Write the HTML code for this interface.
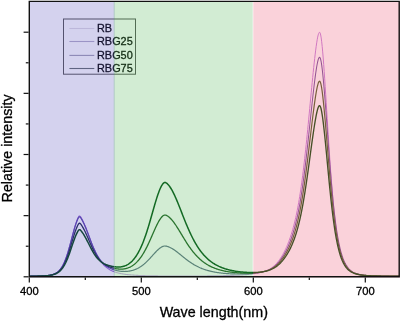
<!DOCTYPE html>
<html><head><meta charset="utf-8"><title>Spectra</title><style>
html,body{margin:0;padding:0;background:#fff;width:400px;height:321px;overflow:hidden}
svg{display:block}
text{font-family:"Liberation Sans",Arial,sans-serif;fill:#000;stroke:#000;stroke-width:0.3px}
</style></head><body>
<svg width="400" height="321" viewBox="0 0 400 321">
<defs><clipPath id="cB"><rect x="28.30" y="0" width="86.20" height="321"/></clipPath><clipPath id="cG"><rect x="114.50" y="0" width="138.70" height="321"/></clipPath><clipPath id="cP"><rect x="253.20" y="0" width="147.00" height="321"/></clipPath></defs>
<rect x="0" y="0" width="400" height="321" fill="#fff"/>
<polyline clip-path="url(#cB)" fill="none" stroke="rgb(150,100,210)" stroke-width="1.1" stroke-linejoin="round" points="29.3,276.25 29.8,276.25 30.3,276.25 30.8,276.24 31.3,276.24 31.8,276.24 32.3,276.23 32.8,276.23 33.3,276.22 33.8,276.22 34.3,276.21 34.8,276.21 35.3,276.20 35.8,276.19 36.3,276.18 36.8,276.18 37.3,276.17 37.8,276.16 38.3,276.15 38.8,276.13 39.3,276.12 39.8,276.11 40.3,276.09 40.8,276.07 41.3,276.06 41.8,276.04 42.3,276.01 42.8,275.99 43.3,275.96 43.8,275.93 44.3,275.90 44.8,275.86 45.3,275.83 45.8,275.78 46.3,275.74 46.8,275.68 47.3,275.63 47.8,275.57 48.3,275.50 48.8,275.42 49.3,275.34 49.8,275.25 50.3,275.15 50.8,275.04 51.3,274.92 51.8,274.79 52.3,274.64 52.8,274.48 53.3,274.30 53.8,274.11 54.3,273.90 54.8,273.67 55.3,273.42 55.8,273.14 56.3,272.83 56.8,272.50 57.3,272.14 57.8,271.74 58.3,271.31 58.8,270.84 59.3,270.32 59.8,269.77 60.3,269.16 60.8,268.51 61.3,267.80 61.8,267.03 62.3,266.21 62.8,265.32 63.3,264.36 63.8,263.34 64.3,262.25 64.8,261.08 65.3,259.85 65.8,258.53 66.3,257.15 66.8,255.69 67.3,254.16 67.8,252.56 68.3,250.89 68.8,249.16 69.3,247.38 69.8,245.55 70.3,243.67 70.8,241.77 71.3,239.84 71.8,237.91 72.3,235.98 72.8,234.06 73.3,232.18 73.8,230.33 74.3,228.54 74.8,226.82 75.3,225.17 75.8,223.60 76.3,222.13 76.8,220.74 77.3,219.44 77.8,218.26 78.3,217.23 78.8,216.44 79.3,216.02 79.8,216.05 80.3,216.47 80.8,217.15 81.3,217.98 81.8,218.88 82.3,219.83 82.8,220.80 83.3,221.81 83.8,222.87 84.3,223.97 84.8,225.11 85.3,226.30 85.8,227.54 86.3,228.81 86.8,230.11 87.3,231.44 87.8,232.79 88.3,234.15 88.8,235.52 89.3,236.89 89.8,238.25 90.3,239.61 90.8,240.96 91.3,242.28 91.8,243.59 92.3,244.87 92.8,246.12 93.3,247.34 93.8,248.53 94.3,249.69 94.8,250.81 95.3,251.90 95.8,252.94 96.3,253.96 96.8,254.93 97.3,255.87 97.8,256.77 98.3,257.64 98.8,258.47 99.3,259.26 99.8,260.03 100.3,260.75 100.8,261.45 101.3,262.12 101.8,262.75 102.3,263.36 102.8,263.94 103.3,264.49 103.8,265.02 104.3,265.52 104.8,266.00 105.3,266.45 105.8,266.89 106.3,267.30 106.8,267.69 107.3,268.07 107.8,268.42 108.3,268.76 108.8,269.09 109.3,269.39 109.8,269.69 110.3,269.97 110.8,270.23 111.3,270.49 111.8,270.73 112.3,270.96 112.8,271.18 113.3,271.38 113.8,271.58 114.3,271.77 114.8,271.95 115.3,272.13 115.8,272.29 116.3,272.45"/>
<polyline clip-path="url(#cG)" fill="none" stroke="rgb(202,167,227)" stroke-width="1.1" stroke-linejoin="round" points="112.5,271.05 113.0,271.26 113.5,271.47 114.0,271.66 114.5,271.85 115.0,272.02 115.5,272.19 116.0,272.35 116.5,272.51 117.0,272.66 117.5,272.80 118.0,272.93 118.5,273.06 119.0,273.18 119.5,273.30 120.0,273.41 120.5,273.51 121.0,273.62 121.5,273.71 122.0,273.81 122.5,273.89 123.0,273.98 123.5,274.06 124.0,274.14 124.5,274.21 125.0,274.29 125.5,274.35 126.0,274.42 126.5,274.48 127.0,274.54 127.5,274.60 128.0,274.66 128.5,274.71 129.0,274.76 129.5,274.81 130.0,274.86 130.5,274.90 131.0,274.95 131.5,274.99 132.0,275.03 132.5,275.07 133.0,275.10 133.5,275.14 134.0,275.17 134.5,275.21 135.0,275.24 135.5,275.27 136.0,275.30 136.5,275.33 137.0,275.35 137.5,275.38 138.0,275.40 138.5,275.43 139.0,275.45 139.5,275.47 140.0,275.50 140.5,275.52 141.0,275.54 141.5,275.56 142.0,275.57 142.5,275.59 143.0,275.61 143.5,275.63 144.0,275.64 144.5,275.66 145.0,275.67 145.5,275.69 146.0,275.70 146.5,275.72 147.0,275.73 147.5,275.74 148.0,275.75 148.5,275.77 149.0,275.78 149.5,275.79 150.0,275.80 150.5,275.81 151.0,275.82 151.5,275.83 152.0,275.84 152.5,275.85 153.0,275.85 153.5,275.86 154.0,275.87 154.5,275.88 155.0,275.89 155.5,275.89 156.0,275.90 156.5,275.91 157.0,275.91 157.5,275.92 158.0,275.93 158.5,275.93 159.0,275.94 159.5,275.94 160.0,275.95 160.5,275.95 161.0,275.96 161.5,275.96 162.0,275.97 162.5,275.97 163.0,275.97 163.5,275.98 164.0,275.98 164.5,275.99 165.0,275.99 165.5,275.99 166.0,276.00 166.5,276.00 167.0,276.00 167.5,276.01 168.0,276.01 168.5,276.01 169.0,276.01 169.5,276.02 170.0,276.02 170.5,276.02 171.0,276.02 171.5,276.02 172.0,276.03 172.5,276.03 173.0,276.03 173.5,276.03 174.0,276.03 174.5,276.03 175.0,276.03 175.5,276.03 176.0,276.04 176.5,276.04 177.0,276.04 177.5,276.04 178.0,276.04 178.5,276.04 179.0,276.04 179.5,276.04 180.0,276.04 180.5,276.04 181.0,276.04 181.5,276.04 182.0,276.04 182.5,276.04 183.0,276.04 183.5,276.04 184.0,276.04 184.5,276.04 185.0,276.04 185.5,276.04 186.0,276.04 186.5,276.04 187.0,276.04 187.5,276.03 188.0,276.03 188.5,276.03 189.0,276.03 189.5,276.03 190.0,276.03 190.5,276.03 191.0,276.03 191.5,276.02 192.0,276.02 192.5,276.02 193.0,276.02 193.5,276.02 194.0,276.01 194.5,276.01 195.0,276.01 195.5,276.01 196.0,276.00 196.5,276.00 197.0,276.00 197.5,276.00 198.0,275.99 198.5,275.99 199.0,275.99 199.5,275.99 200.0,275.98 200.5,275.98 201.0,275.98 201.5,275.97 202.0,275.97 202.5,275.96 203.0,275.96 203.5,275.96 204.0,275.95 204.5,275.95 205.0,275.94 205.5,275.94 206.0,275.93 206.5,275.93 207.0,275.93 207.5,275.92 208.0,275.92 208.5,275.91 209.0,275.90 209.5,275.90 210.0,275.89 210.5,275.89 211.0,275.88 211.5,275.88 212.0,275.87 212.5,275.86 213.0,275.86 213.5,275.85 214.0,275.84 214.5,275.84 215.0,275.83 215.5,275.82 216.0,275.81 216.5,275.80 217.0,275.80 217.5,275.79 218.0,275.78 218.5,275.77 219.0,275.76 219.5,275.75 220.0,275.74 220.5,275.73 221.0,275.72 221.5,275.71 222.0,275.70 222.5,275.69 223.0,275.68 223.5,275.67 224.0,275.66 224.5,275.64 225.0,275.63 225.5,275.62 226.0,275.61 226.5,275.59 227.0,275.58 227.5,275.56 228.0,275.55 228.5,275.54 229.0,275.52 229.5,275.50 230.0,275.49 230.5,275.47 231.0,275.45 231.5,275.44 232.0,275.42 232.5,275.40 233.0,275.38 233.5,275.36 234.0,275.34 234.5,275.32 235.0,275.30 235.5,275.28 236.0,275.25 236.5,275.23 237.0,275.21 237.5,275.18 238.0,275.16 238.5,275.13 239.0,275.10 239.5,275.08 240.0,275.05 240.5,275.02 241.0,274.99 241.5,274.96 242.0,274.92 242.5,274.89 243.0,274.86 243.5,274.82 244.0,274.78 244.5,274.75 245.0,274.71 245.5,274.67 246.0,274.63 246.5,274.58 247.0,274.54 247.5,274.50 248.0,274.45 248.5,274.40 249.0,274.35 249.5,274.30 250.0,274.24 250.5,274.19 251.0,274.13 251.5,274.07 252.0,274.01 252.5,273.95 253.0,273.88 253.5,273.82 254.0,273.74 254.5,273.67 255.0,273.60"/>
<polyline clip-path="url(#cP)" fill="none" stroke="rgb(200,135,222)" stroke-width="1.0" stroke-linejoin="round" points="251.2,274.11 251.7,274.05 252.2,273.99 252.7,273.92 253.2,273.86 253.7,273.79 254.2,273.72 254.7,273.64 255.2,273.56 255.7,273.49 256.2,273.40 256.7,273.32 257.2,273.23 257.7,273.13 258.2,273.04 258.7,272.93 259.2,272.83 259.7,272.72 260.2,272.60 260.7,272.48 261.2,272.36 261.7,272.23 262.2,272.09 262.7,271.95 263.2,271.80 263.7,271.64 264.2,271.48 264.7,271.30 265.2,271.12 265.7,270.93 266.2,270.73 266.7,270.52 267.2,270.30 267.7,270.07 268.2,269.82 268.7,269.57 269.2,269.30 269.7,269.01 270.2,268.71 270.7,268.40 271.2,268.07 271.7,267.73 272.2,267.36 272.7,266.98 273.2,266.58 273.7,266.16 274.2,265.72 274.7,265.27 275.2,264.78 275.7,264.28 276.2,263.76 276.7,263.21 277.2,262.64 277.7,262.04 278.2,261.42 278.7,260.78 279.2,260.11 279.7,259.41 280.2,258.68 280.7,257.93 281.2,257.15 281.7,256.35 282.2,255.51 282.7,254.65 283.2,253.75 283.7,252.83 284.2,251.87 284.7,250.88 285.2,249.86 285.7,248.81 286.2,247.72 286.7,246.59 287.2,245.43 287.7,244.22 288.2,242.98 288.7,241.69 289.2,240.36 289.7,238.98 290.2,237.55 290.7,236.07 291.2,234.54 291.7,232.94 292.2,231.29 292.7,229.57 293.2,227.78 293.7,225.92 294.2,223.99 294.7,221.97 295.2,219.87 295.7,217.67 296.2,215.39 296.7,213.01 297.2,210.52 297.7,207.93 298.2,205.22 298.7,202.40 299.2,199.46 299.7,196.40 300.2,193.20 300.7,189.88 301.2,186.43 301.7,182.84 302.2,179.11 302.7,175.24 303.2,171.24 303.7,167.10 304.2,162.83 304.7,158.42 305.2,153.89 305.7,149.23 306.2,144.46 306.7,139.58 307.2,134.60 307.7,129.53 308.2,124.39 308.7,119.19 309.2,113.94 309.7,108.65 310.2,103.36 310.7,98.07 311.2,92.81 311.7,87.59 312.2,82.44 312.7,77.37 313.2,72.42 313.7,67.60 314.2,62.93 314.7,58.44 315.2,54.15 315.7,50.10 316.2,46.32 316.7,42.85 317.2,39.75 317.7,37.08 318.2,34.93 318.7,33.37 319.2,32.47 319.7,32.28 320.2,33.09 320.7,35.00 321.2,37.94 321.7,41.81 322.2,46.51 322.7,51.92 323.2,57.95 323.7,64.51 324.2,71.50 324.7,78.85 325.2,86.48 325.7,94.31 326.2,102.29 326.7,110.35 327.2,118.43 327.7,126.47 328.2,134.43 328.7,142.25 329.2,149.91 329.7,157.36 330.2,164.58 330.7,171.54 331.2,178.23 331.7,184.63 332.2,190.73 332.7,196.53 333.2,202.03 333.7,207.22 334.2,212.11 334.7,216.71 335.2,221.03 335.7,225.07 336.2,228.84 336.7,232.37 337.2,235.65 337.7,238.70 338.2,241.53 338.7,244.16 339.2,246.59 339.7,248.85 340.2,250.93 340.7,252.86 341.2,254.64 341.7,256.29 342.2,257.81 342.7,259.21 343.2,260.50 343.7,261.69 344.2,262.79 344.7,263.80 345.2,264.73 345.7,265.59 346.2,266.38 346.7,267.11 347.2,267.78 347.7,268.40 348.2,268.97 348.7,269.50 349.2,269.98 349.7,270.43 350.2,270.85 350.7,271.23 351.2,271.58 351.7,271.90 352.2,272.20 352.7,272.48 353.2,272.74 353.7,272.98 354.2,273.20 354.7,273.40 355.2,273.59 355.7,273.76 356.2,273.92 356.7,274.07 357.2,274.21 357.7,274.34 358.2,274.46 358.7,274.58 359.2,274.68 359.7,274.78 360.2,274.86 360.7,274.95 361.2,275.03 361.7,275.10 362.2,275.17 362.7,275.23 363.2,275.29 363.7,275.34 364.2,275.40 364.7,275.44 365.2,275.49 365.7,275.53 366.2,275.57 366.7,275.61 367.2,275.64 367.7,275.67 368.2,275.70 368.7,275.73 369.2,275.76 369.7,275.79 370.2,275.81 370.7,275.83 371.2,275.85 371.7,275.87 372.2,275.89 372.7,275.91 373.2,275.93 373.7,275.94 374.2,275.96 374.7,275.97 375.2,275.98 375.7,276.00 376.2,276.01 376.7,276.02 377.2,276.03 377.7,276.04 378.2,276.05 378.7,276.06 379.2,276.07 379.7,276.07 380.2,276.08 380.7,276.09 381.2,276.10 381.7,276.10 382.2,276.11 382.7,276.12 383.2,276.12 383.7,276.13 384.2,276.13 384.7,276.14 385.2,276.14 385.7,276.15 386.2,276.15 386.7,276.16 387.2,276.16 387.7,276.16 388.2,276.17 388.7,276.17 389.2,276.17 389.7,276.18 390.2,276.18 390.7,276.18 391.2,276.19 391.7,276.19 392.2,276.19 392.7,276.19 393.2,276.20 393.7,276.20 394.2,276.20 394.7,276.20 395.2,276.21 395.7,276.21 396.2,276.21 396.7,276.21 397.2,276.21 397.7,276.22 398.2,276.22 398.7,276.22 399.2,276.22"/>
<polyline clip-path="url(#cB)" fill="none" stroke="rgb(90,68,172)" stroke-width="1.2" stroke-linejoin="round" points="29.3,276.24 29.8,276.23 30.3,276.23 30.8,276.23 31.3,276.22 31.8,276.22 32.3,276.22 32.8,276.21 33.3,276.21 33.8,276.20 34.3,276.19 34.8,276.19 35.3,276.18 35.8,276.17 36.3,276.17 36.8,276.16 37.3,276.15 37.8,276.14 38.3,276.13 38.8,276.12 39.3,276.10 39.8,276.09 40.3,276.07 40.8,276.05 41.3,276.04 41.8,276.02 42.3,275.99 42.8,275.97 43.3,275.94 43.8,275.91 44.3,275.88 44.8,275.84 45.3,275.80 45.8,275.76 46.3,275.72 46.8,275.66 47.3,275.61 47.8,275.55 48.3,275.48 48.8,275.40 49.3,275.32 49.8,275.23 50.3,275.13 50.8,275.02 51.3,274.90 51.8,274.77 52.3,274.63 52.8,274.47 53.3,274.30 53.8,274.11 54.3,273.90 54.8,273.67 55.3,273.42 55.8,273.15 56.3,272.85 56.8,272.52 57.3,272.16 57.8,271.77 58.3,271.34 58.8,270.88 59.3,270.37 59.8,269.82 60.3,269.23 60.8,268.58 61.3,267.88 61.8,267.13 62.3,266.31 62.8,265.44 63.3,264.50 63.8,263.49 64.3,262.42 64.8,261.27 65.3,260.05 65.8,258.76 66.3,257.40 66.8,255.96 67.3,254.45 67.8,252.88 68.3,251.24 68.8,249.53 69.3,247.78 69.8,245.97 70.3,244.13 70.8,242.25 71.3,240.36 71.8,238.45 72.3,236.55 72.8,234.67 73.3,232.81 73.8,230.99 74.3,229.23 74.8,227.53 75.3,225.91 75.8,224.36 76.3,222.91 76.8,221.54 77.3,220.26 77.8,219.09 78.3,218.07 78.8,217.29 79.3,216.88 79.8,216.90 80.3,217.31 80.8,217.97 81.3,218.78 81.8,219.66 82.3,220.58 82.8,221.53 83.3,222.52 83.8,223.55 84.3,224.62 84.8,225.74 85.3,226.90 85.8,228.10 86.3,229.34 86.8,230.61 87.3,231.90 87.8,233.21 88.3,234.53 88.8,235.86 89.3,237.19 89.8,238.52 90.3,239.84 90.8,241.14 91.3,242.42 91.8,243.68 92.3,244.91 92.8,246.12 93.3,247.29 93.8,248.44 94.3,249.54 94.8,250.62 95.3,251.65 95.8,252.65 96.3,253.61 96.8,254.54 97.3,255.42 97.8,256.27 98.3,257.08 98.8,257.86 99.3,258.61 99.8,259.31 100.3,259.99 100.8,260.64 101.3,261.25 101.8,261.83 102.3,262.39 102.8,262.92 103.3,263.42 103.8,263.90 104.3,264.35 104.8,264.78 105.3,265.19 105.8,265.58 106.3,265.95 106.8,266.30 107.3,266.63 107.8,266.95 108.3,267.25 108.8,267.54 109.3,267.81 109.8,268.07 110.3,268.31 110.8,268.55 111.3,268.77 111.8,268.98 112.3,269.18 112.8,269.37 113.3,269.55 113.8,269.73 114.3,269.89 114.8,270.04 115.3,270.19 115.8,270.33 116.3,270.46"/>
<polyline clip-path="url(#cG)" fill="none" stroke="rgb(95,114,134)" stroke-width="1.2" stroke-linejoin="round" points="112.5,269.26 113.0,269.45 113.5,269.62 114.0,269.79 114.5,269.95 115.0,270.10 115.5,270.24 116.0,270.38 116.5,270.50 117.0,270.62 117.5,270.73 118.0,270.84 118.5,270.93 119.0,271.02 119.5,271.10 120.0,271.17 120.5,271.23 121.0,271.29 121.5,271.34 122.0,271.38 122.5,271.42 123.0,271.44 123.5,271.46 124.0,271.47 124.5,271.48 125.0,271.47 125.5,271.46 126.0,271.44 126.5,271.41 127.0,271.37 127.5,271.32 128.0,271.27 128.5,271.21 129.0,271.13 129.5,271.05 130.0,270.96 130.5,270.87 131.0,270.76 131.5,270.64 132.0,270.51 132.5,270.38 133.0,270.23 133.5,270.07 134.0,269.91 134.5,269.73 135.0,269.54 135.5,269.35 136.0,269.14 136.5,268.92 137.0,268.68 137.5,268.44 138.0,268.18 138.5,267.92 139.0,267.64 139.5,267.34 140.0,267.04 140.5,266.72 141.0,266.39 141.5,266.05 142.0,265.69 142.5,265.32 143.0,264.94 143.5,264.54 144.0,264.14 144.5,263.71 145.0,263.28 145.5,262.83 146.0,262.37 146.5,261.90 147.0,261.42 147.5,260.92 148.0,260.42 148.5,259.90 149.0,259.38 149.5,258.85 150.0,258.31 150.5,257.76 151.0,257.21 151.5,256.65 152.0,256.09 152.5,255.53 153.0,254.97 153.5,254.42 154.0,253.86 154.5,253.31 155.0,252.77 155.5,252.23 156.0,251.71 156.5,251.19 157.0,250.69 157.5,250.21 158.0,249.74 158.5,249.30 159.0,248.87 159.5,248.47 160.0,248.08 160.5,247.73 161.0,247.40 161.5,247.09 162.0,246.82 162.5,246.58 163.0,246.37 163.5,246.21 164.0,246.09 164.5,246.02 165.0,246.00 165.5,246.04 166.0,246.10 166.5,246.20 167.0,246.33 167.5,246.48 168.0,246.65 168.5,246.83 169.0,247.03 169.5,247.25 170.0,247.47 170.5,247.71 171.0,247.97 171.5,248.24 172.0,248.52 172.5,248.81 173.0,249.12 173.5,249.43 174.0,249.76 174.5,250.10 175.0,250.45 175.5,250.81 176.0,251.17 176.5,251.55 177.0,251.93 177.5,252.32 178.0,252.71 178.5,253.11 179.0,253.51 179.5,253.91 180.0,254.32 180.5,254.73 181.0,255.14 181.5,255.55 182.0,255.96 182.5,256.36 183.0,256.77 183.5,257.18 184.0,257.58 184.5,257.98 185.0,258.38 185.5,258.78 186.0,259.17 186.5,259.55 187.0,259.93 187.5,260.31 188.0,260.68 188.5,261.05 189.0,261.41 189.5,261.76 190.0,262.11 190.5,262.45 191.0,262.79 191.5,263.12 192.0,263.44 192.5,263.76 193.0,264.07 193.5,264.37 194.0,264.67 194.5,264.96 195.0,265.24 195.5,265.52 196.0,265.79 196.5,266.06 197.0,266.32 197.5,266.57 198.0,266.81 198.5,267.05 199.0,267.29 199.5,267.51 200.0,267.74 200.5,267.95 201.0,268.16 201.5,268.37 202.0,268.57 202.5,268.76 203.0,268.95 203.5,269.13 204.0,269.31 204.5,269.48 205.0,269.65 205.5,269.81 206.0,269.97 206.5,270.12 207.0,270.27 207.5,270.42 208.0,270.56 208.5,270.69 209.0,270.83 209.5,270.95 210.0,271.08 210.5,271.20 211.0,271.32 211.5,271.43 212.0,271.54 212.5,271.65 213.0,271.75 213.5,271.85 214.0,271.95 214.5,272.04 215.0,272.13 215.5,272.22 216.0,272.31 216.5,272.39 217.0,272.47 217.5,272.54 218.0,272.62 218.5,272.69 219.0,272.76 219.5,272.83 220.0,272.89 220.5,272.96 221.0,273.02 221.5,273.07 222.0,273.13 222.5,273.18 223.0,273.24 223.5,273.29 224.0,273.33 224.5,273.38 225.0,273.42 225.5,273.47 226.0,273.51 226.5,273.55 227.0,273.58 227.5,273.62 228.0,273.65 228.5,273.68 229.0,273.72 229.5,273.74 230.0,273.77 230.5,273.80 231.0,273.82 231.5,273.85 232.0,273.87 232.5,273.89 233.0,273.91 233.5,273.92 234.0,273.94 234.5,273.95 235.0,273.97 235.5,273.98 236.0,273.99 236.5,274.00 237.0,274.01 237.5,274.01 238.0,274.02 238.5,274.02 239.0,274.02 239.5,274.02 240.0,274.02 240.5,274.02 241.0,274.02 241.5,274.01 242.0,274.01 242.5,274.00 243.0,273.99 243.5,273.98 244.0,273.97 244.5,273.95 245.0,273.94 245.5,273.92 246.0,273.90 246.5,273.88 247.0,273.86 247.5,273.84 248.0,273.81 248.5,273.78 249.0,273.75 249.5,273.72 250.0,273.69 250.5,273.66 251.0,273.62 251.5,273.58 252.0,273.54 252.5,273.50 253.0,273.45 253.5,273.40 254.0,273.35 254.5,273.30 255.0,273.24"/>
<polyline clip-path="url(#cP)" fill="none" stroke="rgb(120,88,160)" stroke-width="1.05" stroke-linejoin="round" points="251.2,273.60 251.7,273.56 252.2,273.52 252.7,273.48 253.2,273.43 253.7,273.38 254.2,273.33 254.7,273.28 255.2,273.22 255.7,273.16 256.2,273.10 256.7,273.03 257.2,272.96 257.7,272.89 258.2,272.81 258.7,272.73 259.2,272.65 259.7,272.56 260.2,272.46 260.7,272.37 261.2,272.26 261.7,272.15 262.2,272.04 262.7,271.92 263.2,271.79 263.7,271.66 264.2,271.52 264.7,271.37 265.2,271.22 265.7,271.06 266.2,270.88 266.7,270.70 267.2,270.51 267.7,270.31 268.2,270.10 268.7,269.87 269.2,269.64 269.7,269.39 270.2,269.13 270.7,268.85 271.2,268.56 271.7,268.26 272.2,267.94 272.7,267.60 273.2,267.25 273.7,266.88 274.2,266.49 274.7,266.08 275.2,265.66 275.7,265.21 276.2,264.75 276.7,264.26 277.2,263.75 277.7,263.22 278.2,262.67 278.7,262.10 279.2,261.50 279.7,260.88 280.2,260.23 280.7,259.56 281.2,258.87 281.7,258.15 282.2,257.40 282.7,256.63 283.2,255.83 283.7,255.00 284.2,254.15 284.7,253.27 285.2,252.35 285.7,251.41 286.2,250.44 286.7,249.43 287.2,248.39 287.7,247.31 288.2,246.20 288.7,245.05 289.2,243.86 289.7,242.62 290.2,241.35 290.7,240.02 291.2,238.65 291.7,237.22 292.2,235.74 292.7,234.20 293.2,232.60 293.7,230.93 294.2,229.19 294.7,227.39 295.2,225.50 295.7,223.54 296.2,221.49 296.7,219.36 297.2,217.13 297.7,214.81 298.2,212.38 298.7,209.85 299.2,207.22 299.7,204.47 300.2,201.61 300.7,198.63 301.2,195.53 301.7,192.31 302.2,188.97 302.7,185.51 303.2,181.92 303.7,178.21 304.2,174.37 304.7,170.42 305.2,166.36 305.7,162.18 306.2,157.90 306.7,153.53 307.2,149.06 307.7,144.52 308.2,139.91 308.7,135.24 309.2,130.53 309.7,125.79 310.2,121.04 310.7,116.30 311.2,111.58 311.7,106.90 312.2,102.28 312.7,97.74 313.2,93.30 313.7,88.97 314.2,84.79 314.7,80.76 315.2,76.92 315.7,73.28 316.2,69.89 316.7,66.78 317.2,64.00 317.7,61.61 318.2,59.68 318.7,58.28 319.2,57.47 319.7,57.30 320.2,57.97 320.7,59.55 321.2,61.97 321.7,65.16 322.2,69.03 322.7,73.49 323.2,78.45 323.7,83.85 324.2,89.62 324.7,95.70 325.2,102.02 325.7,108.55 326.2,115.22 326.7,121.99 327.2,128.81 327.7,135.63 328.2,142.43 328.7,149.15 329.2,155.77 329.7,162.26 330.2,168.59 330.7,174.74 331.2,180.68 331.7,186.41 332.2,191.92 332.7,197.19 333.2,202.22 333.7,207.00 334.2,211.55 334.7,215.85 335.2,219.92 335.7,223.75 336.2,227.36 336.7,230.75 337.2,233.92 337.7,236.90 338.2,239.68 338.7,242.28 339.2,244.70 339.7,246.96 340.2,249.06 340.7,251.02 341.2,252.83 341.7,254.52 342.2,256.09 342.7,257.54 343.2,258.89 343.7,260.14 344.2,261.29 344.7,262.36 345.2,263.36 345.7,264.28 346.2,265.13 346.7,265.91 347.2,266.64 347.7,267.32 348.2,267.94 348.7,268.52 349.2,269.05 349.7,269.55 350.2,270.01 350.7,270.43 351.2,270.83 351.7,271.19 352.2,271.53 352.7,271.85 353.2,272.14 353.7,272.41 354.2,272.66 354.7,272.89 355.2,273.11 355.7,273.31 356.2,273.49 356.7,273.67 357.2,273.83 357.7,273.98 358.2,274.12 358.7,274.25 359.2,274.37 359.7,274.48 360.2,274.59 360.7,274.68 361.2,274.77 361.7,274.86 362.2,274.94 362.7,275.01 363.2,275.08 363.7,275.15 364.2,275.21 364.7,275.27 365.2,275.32 365.7,275.37 366.2,275.42 366.7,275.46 367.2,275.50 367.7,275.54 368.2,275.58 368.7,275.61 369.2,275.65 369.7,275.68 370.2,275.71 370.7,275.73 371.2,275.76 371.7,275.78 372.2,275.80 372.7,275.83 373.2,275.85 373.7,275.86 374.2,275.88 374.7,275.90 375.2,275.92 375.7,275.93 376.2,275.94 376.7,275.96 377.2,275.97 377.7,275.98 378.2,275.99 378.7,276.01 379.2,276.02 379.7,276.03 380.2,276.04 380.7,276.04 381.2,276.05 381.7,276.06 382.2,276.07 382.7,276.08 383.2,276.08 383.7,276.09 384.2,276.10 384.7,276.10 385.2,276.11 385.7,276.11 386.2,276.12 386.7,276.12 387.2,276.13 387.7,276.13 388.2,276.14 388.7,276.14 389.2,276.15 389.7,276.15 390.2,276.15 390.7,276.16 391.2,276.16 391.7,276.16 392.2,276.17 392.7,276.17 393.2,276.17 393.7,276.18 394.2,276.18 394.7,276.18 395.2,276.18 395.7,276.19 396.2,276.19 396.7,276.19 397.2,276.19 397.7,276.20 398.2,276.20 398.7,276.20 399.2,276.20"/>
<polyline clip-path="url(#cB)" fill="none" stroke="rgb(30,38,80)" stroke-width="1.3" stroke-linejoin="round" points="29.3,276.22 29.8,276.22 30.3,276.22 30.8,276.21 31.3,276.21 31.8,276.21 32.3,276.20 32.8,276.20 33.3,276.19 33.8,276.19 34.3,276.18 34.8,276.18 35.3,276.17 35.8,276.16 36.3,276.16 36.8,276.15 37.3,276.14 37.8,276.13 38.3,276.12 38.8,276.11 39.3,276.10 39.8,276.08 40.3,276.07 40.8,276.05 41.3,276.04 41.8,276.02 42.3,276.00 42.8,275.97 43.3,275.95 43.8,275.92 44.3,275.89 44.8,275.86 45.3,275.83 45.8,275.79 46.3,275.74 46.8,275.70 47.3,275.65 47.8,275.59 48.3,275.53 48.8,275.46 49.3,275.39 49.8,275.31 50.3,275.22 50.8,275.12 51.3,275.01 51.8,274.90 52.3,274.77 52.8,274.63 53.3,274.47 53.8,274.30 54.3,274.11 54.8,273.91 55.3,273.69 55.8,273.44 56.3,273.17 56.8,272.88 57.3,272.56 57.8,272.21 58.3,271.83 58.8,271.41 59.3,270.96 59.8,270.47 60.3,269.94 60.8,269.36 61.3,268.74 61.8,268.07 62.3,267.34 62.8,266.56 63.3,265.72 63.8,264.82 64.3,263.86 64.8,262.84 65.3,261.75 65.8,260.60 66.3,259.39 66.8,258.10 67.3,256.76 67.8,255.36 68.3,253.89 68.8,252.38 69.3,250.81 69.8,249.20 70.3,247.56 70.8,245.88 71.3,244.19 71.8,242.50 72.3,240.80 72.8,239.12 73.3,237.46 73.8,235.84 74.3,234.26 74.8,232.75 75.3,231.30 75.8,229.92 76.3,228.62 76.8,227.40 77.3,226.26 77.8,225.21 78.3,224.30 78.8,223.60 79.3,223.22 79.8,223.24 80.3,223.60 80.8,224.18 81.3,224.90 81.8,225.67 82.3,226.48 82.8,227.32 83.3,228.19 83.8,229.10 84.3,230.04 84.8,231.03 85.3,232.05 85.8,233.10 86.3,234.19 86.8,235.31 87.3,236.44 87.8,237.59 88.3,238.75 88.8,239.92 89.3,241.08 89.8,242.24 90.3,243.39 90.8,244.53 91.3,245.64 91.8,246.74 92.3,247.81 92.8,248.85 93.3,249.87 93.8,250.85 94.3,251.81 94.8,252.72 95.3,253.61 95.8,254.46 96.3,255.28 96.8,256.06 97.3,256.81 97.8,257.52 98.3,258.20 98.8,258.85 99.3,259.47 99.8,260.05 100.3,260.61 100.8,261.14 101.3,261.64 101.8,262.11 102.3,262.56 102.8,262.98 103.3,263.38 103.8,263.76 104.3,264.12 104.8,264.46 105.3,264.78 105.8,265.08 106.3,265.37 106.8,265.64 107.3,265.89 107.8,266.14 108.3,266.37 108.8,266.59 109.3,266.79 109.8,266.99 110.3,267.18 110.8,267.35 111.3,267.52 111.8,267.68 112.3,267.83 112.8,267.97 113.3,268.11 113.8,268.23 114.3,268.35 114.8,268.46 115.3,268.56 115.8,268.66 116.3,268.74"/>
<polyline clip-path="url(#cG)" fill="none" stroke="rgb(30,95,35)" stroke-width="1.3" stroke-linejoin="round" points="112.5,267.89 113.0,268.03 113.5,268.16 114.0,268.28 114.5,268.39 115.0,268.50 115.5,268.60 116.0,268.69 116.5,268.77 117.0,268.85 117.5,268.92 118.0,268.97 118.5,269.02 119.0,269.06 119.5,269.09 120.0,269.12 120.5,269.13 121.0,269.13 121.5,269.12 122.0,269.10 122.5,269.07 123.0,269.03 123.5,268.98 124.0,268.91 124.5,268.83 125.0,268.74 125.5,268.64 126.0,268.52 126.5,268.39 127.0,268.25 127.5,268.09 128.0,267.91 128.5,267.73 129.0,267.52 129.5,267.30 130.0,267.07 130.5,266.82 131.0,266.55 131.5,266.26 132.0,265.96 132.5,265.64 133.0,265.30 133.5,264.94 134.0,264.57 134.5,264.17 135.0,263.75 135.5,263.31 136.0,262.86 136.5,262.37 137.0,261.87 137.5,261.35 138.0,260.80 138.5,260.23 139.0,259.63 139.5,259.01 140.0,258.37 140.5,257.70 141.0,257.01 141.5,256.29 142.0,255.54 142.5,254.77 143.0,253.97 143.5,253.15 144.0,252.30 144.5,251.42 145.0,250.52 145.5,249.60 146.0,248.65 146.5,247.67 147.0,246.67 147.5,245.66 148.0,244.61 148.5,243.55 149.0,242.48 149.5,241.38 150.0,240.27 150.5,239.15 151.0,238.02 151.5,236.88 152.0,235.73 152.5,234.58 153.0,233.43 153.5,232.29 154.0,231.15 154.5,230.02 155.0,228.91 155.5,227.81 156.0,226.73 156.5,225.68 157.0,224.66 157.5,223.67 158.0,222.71 158.5,221.80 159.0,220.92 159.5,220.10 160.0,219.32 160.5,218.59 161.0,217.91 161.5,217.29 162.0,216.73 162.5,216.23 163.0,215.81 163.5,215.46 164.0,215.21 164.5,215.07 165.0,215.04 165.5,215.10 166.0,215.23 166.5,215.43 167.0,215.69 167.5,215.99 168.0,216.33 168.5,216.70 169.0,217.10 169.5,217.53 170.0,217.99 170.5,218.48 171.0,218.99 171.5,219.54 172.0,220.10 172.5,220.70 173.0,221.32 173.5,221.96 174.0,222.63 174.5,223.32 175.0,224.02 175.5,224.75 176.0,225.49 176.5,226.25 177.0,227.03 177.5,227.81 178.0,228.61 178.5,229.42 179.0,230.23 179.5,231.05 180.0,231.88 180.5,232.71 181.0,233.54 181.5,234.38 182.0,235.21 182.5,236.04 183.0,236.87 183.5,237.70 184.0,238.52 184.5,239.33 185.0,240.14 185.5,240.95 186.0,241.74 186.5,242.53 187.0,243.30 187.5,244.07 188.0,244.82 188.5,245.57 189.0,246.30 189.5,247.02 190.0,247.73 190.5,248.43 191.0,249.12 191.5,249.79 192.0,250.45 192.5,251.09 193.0,251.73 193.5,252.34 194.0,252.95 194.5,253.54 195.0,254.12 195.5,254.69 196.0,255.25 196.5,255.79 197.0,256.31 197.5,256.83 198.0,257.33 198.5,257.82 199.0,258.30 199.5,258.77 200.0,259.22 200.5,259.66 201.0,260.09 201.5,260.51 202.0,260.92 202.5,261.32 203.0,261.70 203.5,262.08 204.0,262.44 204.5,262.80 205.0,263.14 205.5,263.48 206.0,263.81 206.5,264.12 207.0,264.43 207.5,264.73 208.0,265.02 208.5,265.31 209.0,265.58 209.5,265.85 210.0,266.11 210.5,266.36 211.0,266.60 211.5,266.84 212.0,267.07 212.5,267.29 213.0,267.51 213.5,267.72 214.0,267.92 214.5,268.12 215.0,268.31 215.5,268.50 216.0,268.68 216.5,268.86 217.0,269.03 217.5,269.19 218.0,269.35 218.5,269.51 219.0,269.66 219.5,269.80 220.0,269.95 220.5,270.08 221.0,270.22 221.5,270.35 222.0,270.47 222.5,270.59 223.0,270.71 223.5,270.82 224.0,270.93 224.5,271.04 225.0,271.14 225.5,271.24 226.0,271.34 226.5,271.43 227.0,271.52 227.5,271.60 228.0,271.69 228.5,271.77 229.0,271.85 229.5,271.92 230.0,272.00 230.5,272.07 231.0,272.13 231.5,272.20 232.0,272.26 232.5,272.32 233.0,272.38 233.5,272.43 234.0,272.49 234.5,272.54 235.0,272.59 235.5,272.63 236.0,272.68 236.5,272.72 237.0,272.76 237.5,272.80 238.0,272.83 238.5,272.87 239.0,272.90 239.5,272.93 240.0,272.96 240.5,272.98 241.0,273.01 241.5,273.03 242.0,273.05 242.5,273.07 243.0,273.08 243.5,273.10 244.0,273.11 244.5,273.12 245.0,273.13 245.5,273.13 246.0,273.14 246.5,273.14 247.0,273.14 247.5,273.14 248.0,273.14 248.5,273.13 249.0,273.12 249.5,273.12 250.0,273.10 250.5,273.09 251.0,273.07 251.5,273.06 252.0,273.03 252.5,273.01 253.0,272.99 253.5,272.96 254.0,272.93 254.5,272.89 255.0,272.86"/>
<polyline clip-path="url(#cP)" fill="none" stroke="rgb(82,102,44)" stroke-width="1.2" stroke-linejoin="round" points="251.2,273.07 251.7,273.05 252.2,273.03 252.7,273.00 253.2,272.98 253.7,272.95 254.2,272.91 254.7,272.88 255.2,272.84 255.7,272.80 256.2,272.76 256.7,272.71 257.2,272.66 257.7,272.61 258.2,272.56 258.7,272.50 259.2,272.43 259.7,272.36 260.2,272.29 260.7,272.21 261.2,272.13 261.7,272.05 262.2,271.96 262.7,271.86 263.2,271.76 263.7,271.65 264.2,271.53 264.7,271.41 265.2,271.28 265.7,271.14 266.2,271.00 266.7,270.84 267.2,270.68 267.7,270.51 268.2,270.33 268.7,270.14 269.2,269.94 269.7,269.72 270.2,269.50 270.7,269.26 271.2,269.01 271.7,268.74 272.2,268.47 272.7,268.17 273.2,267.86 273.7,267.54 274.2,267.20 274.7,266.85 275.2,266.47 275.7,266.08 276.2,265.67 276.7,265.24 277.2,264.80 277.7,264.33 278.2,263.84 278.7,263.34 279.2,262.81 279.7,262.26 280.2,261.69 280.7,261.10 281.2,260.49 281.7,259.85 282.2,259.19 282.7,258.51 283.2,257.80 283.7,257.07 284.2,256.31 284.7,255.53 285.2,254.72 285.7,253.89 286.2,253.02 286.7,252.13 287.2,251.21 287.7,250.25 288.2,249.26 288.7,248.24 289.2,247.19 289.7,246.09 290.2,244.96 290.7,243.78 291.2,242.56 291.7,241.29 292.2,239.98 292.7,238.61 293.2,237.19 293.7,235.70 294.2,234.16 294.7,232.56 295.2,230.88 295.7,229.14 296.2,227.32 296.7,225.42 297.2,223.44 297.7,221.37 298.2,219.21 298.7,216.97 299.2,214.62 299.7,212.18 300.2,209.63 300.7,206.98 301.2,204.23 301.7,201.36 302.2,198.39 302.7,195.31 303.2,192.12 303.7,188.81 304.2,185.40 304.7,181.89 305.2,178.27 305.7,174.56 306.2,170.75 306.7,166.85 307.2,162.88 307.7,158.84 308.2,154.73 308.7,150.58 309.2,146.39 309.7,142.17 310.2,137.94 310.7,133.72 311.2,129.52 311.7,125.36 312.2,121.25 312.7,117.20 313.2,113.25 313.7,109.40 314.2,105.68 314.7,102.09 315.2,98.67 315.7,95.44 316.2,92.42 316.7,89.65 317.2,87.18 317.7,85.05 318.2,83.34 318.7,82.09 319.2,81.37 319.7,81.22 320.2,81.82 320.7,83.23 321.2,85.38 321.7,88.22 322.2,91.67 322.7,95.64 323.2,100.06 323.7,104.87 324.2,110.01 324.7,115.42 325.2,121.05 325.7,126.86 326.2,132.80 326.7,138.83 327.2,144.90 327.7,150.98 328.2,157.03 328.7,163.02 329.2,168.91 329.7,174.69 330.2,180.32 330.7,185.80 331.2,191.09 331.7,196.19 332.2,201.10 332.7,205.79 333.2,210.27 333.7,214.53 334.2,218.58 334.7,222.41 335.2,226.03 335.7,229.44 336.2,232.66 336.7,235.67 337.2,238.50 337.7,241.15 338.2,243.63 338.7,245.95 339.2,248.10 339.7,250.11 340.2,251.99 340.7,253.73 341.2,255.35 341.7,256.85 342.2,258.24 342.7,259.54 343.2,260.74 343.7,261.85 344.2,262.88 344.7,263.84 345.2,264.72 345.7,265.54 346.2,266.30 346.7,267.00 347.2,267.65 347.7,268.25 348.2,268.80 348.7,269.32 349.2,269.80 349.7,270.24 350.2,270.65 350.7,271.03 351.2,271.38 351.7,271.70 352.2,272.01 352.7,272.29 353.2,272.54 353.7,272.79 354.2,273.01 354.7,273.22 355.2,273.41 355.7,273.59 356.2,273.75 356.7,273.91 357.2,274.05 357.7,274.19 358.2,274.31 358.7,274.43 359.2,274.54 359.7,274.64 360.2,274.73 360.7,274.82 361.2,274.90 361.7,274.98 362.2,275.05 362.7,275.12 363.2,275.18 363.7,275.24 364.2,275.29 364.7,275.34 365.2,275.39 365.7,275.44 366.2,275.48 366.7,275.52 367.2,275.55 367.7,275.59 368.2,275.62 368.7,275.65 369.2,275.68 369.7,275.71 370.2,275.74 370.7,275.76 371.2,275.78 371.7,275.80 372.2,275.83 372.7,275.84 373.2,275.86 373.7,275.88 374.2,275.90 374.7,275.91 375.2,275.93 375.7,275.94 376.2,275.95 376.7,275.97 377.2,275.98 377.7,275.99 378.2,276.00 378.7,276.01 379.2,276.02 379.7,276.03 380.2,276.04 380.7,276.04 381.2,276.05 381.7,276.06 382.2,276.07 382.7,276.07 383.2,276.08 383.7,276.09 384.2,276.09 384.7,276.10 385.2,276.10 385.7,276.11 386.2,276.11 386.7,276.12 387.2,276.12 387.7,276.13 388.2,276.13 388.7,276.14 389.2,276.14 389.7,276.14 390.2,276.15 390.7,276.15 391.2,276.15 391.7,276.16 392.2,276.16 392.7,276.16 393.2,276.16 393.7,276.17 394.2,276.17 394.7,276.17 395.2,276.18 395.7,276.18 396.2,276.18 396.7,276.18 397.2,276.18 397.7,276.19 398.2,276.19 398.7,276.19 399.2,276.19"/>
<polyline clip-path="url(#cB)" fill="none" stroke="rgb(0,70,20)" stroke-width="1.5" stroke-linejoin="round" points="29.3,276.21 29.8,276.21 30.3,276.21 30.8,276.20 31.3,276.20 31.8,276.19 32.3,276.19 32.8,276.19 33.3,276.18 33.8,276.18 34.3,276.17 34.8,276.17 35.3,276.16 35.8,276.15 36.3,276.15 36.8,276.14 37.3,276.13 37.8,276.12 38.3,276.11 38.8,276.10 39.3,276.09 39.8,276.08 40.3,276.06 40.8,276.05 41.3,276.03 41.8,276.02 42.3,276.00 42.8,275.98 43.3,275.96 43.8,275.93 44.3,275.91 44.8,275.88 45.3,275.84 45.8,275.81 46.3,275.77 46.8,275.73 47.3,275.69 47.8,275.64 48.3,275.58 48.8,275.52 49.3,275.46 49.8,275.38 50.3,275.31 50.8,275.22 51.3,275.12 51.8,275.02 52.3,274.91 52.8,274.78 53.3,274.64 53.8,274.49 54.3,274.33 54.8,274.15 55.3,273.95 55.8,273.74 56.3,273.50 56.8,273.24 57.3,272.96 57.8,272.65 58.3,272.32 58.8,271.95 59.3,271.56 59.8,271.13 60.3,270.66 60.8,270.15 61.3,269.61 61.8,269.02 62.3,268.38 62.8,267.69 63.3,266.96 63.8,266.17 64.3,265.33 64.8,264.43 65.3,263.48 65.8,262.47 66.3,261.40 66.8,260.28 67.3,259.10 67.8,257.87 68.3,256.59 68.8,255.26 69.3,253.88 69.8,252.47 70.3,251.03 70.8,249.57 71.3,248.08 71.8,246.59 72.3,245.11 72.8,243.63 73.3,242.18 73.8,240.76 74.3,239.38 74.8,238.05 75.3,236.77 75.8,235.56 76.3,234.42 76.8,233.35 77.3,232.34 77.8,231.42 78.3,230.62 78.8,230.00 79.3,229.66 79.8,229.67 80.3,229.98 80.8,230.48 81.3,231.10 81.8,231.77 82.3,232.47 82.8,233.19 83.3,233.94 83.8,234.72 84.3,235.54 84.8,236.38 85.3,237.27 85.8,238.18 86.3,239.11 86.8,240.07 87.3,241.04 87.8,242.03 88.3,243.03 88.8,244.02 89.3,245.02 89.8,246.01 90.3,246.99 90.8,247.95 91.3,248.90 91.8,249.83 92.3,250.73 92.8,251.61 93.3,252.46 93.8,253.28 94.3,254.08 94.8,254.84 95.3,255.57 95.8,256.27 96.3,256.94 96.8,257.58 97.3,258.19 97.8,258.76 98.3,259.31 98.8,259.82 99.3,260.31 99.8,260.77 100.3,261.20 100.8,261.61 101.3,261.99 101.8,262.35 102.3,262.68 102.8,263.00 103.3,263.29 103.8,263.57 104.3,263.83 104.8,264.07 105.3,264.30 105.8,264.52 106.3,264.72 106.8,264.91 107.3,265.08 107.8,265.25 108.3,265.41 108.8,265.56 109.3,265.70 109.8,265.83 110.3,265.96 110.8,266.07 111.3,266.18 111.8,266.29 112.3,266.39 112.8,266.48 113.3,266.56 113.8,266.64 114.3,266.71 114.8,266.78 115.3,266.83 115.8,266.88 116.3,266.93"/>
<polyline clip-path="url(#cG)" fill="none" stroke="rgb(0,82,22)" stroke-width="1.5" stroke-linejoin="round" points="112.5,266.42 113.0,266.51 113.5,266.59 114.0,266.67 114.5,266.74 115.0,266.80 115.5,266.85 116.0,266.90 116.5,266.94 117.0,266.97 117.5,266.99 118.0,267.00 118.5,267.01 119.0,267.00 119.5,266.98 120.0,266.95 120.5,266.90 121.0,266.85 121.5,266.78 122.0,266.69 122.5,266.59 123.0,266.48 123.5,266.35 124.0,266.21 124.5,266.04 125.0,265.86 125.5,265.66 126.0,265.45 126.5,265.21 127.0,264.95 127.5,264.68 128.0,264.38 128.5,264.06 129.0,263.72 129.5,263.35 130.0,262.97 130.5,262.55 131.0,262.12 131.5,261.66 132.0,261.17 132.5,260.65 133.0,260.11 133.5,259.54 134.0,258.94 134.5,258.32 135.0,257.66 135.5,256.97 136.0,256.25 136.5,255.49 137.0,254.71 137.5,253.89 138.0,253.03 138.5,252.14 139.0,251.21 139.5,250.25 140.0,249.25 140.5,248.21 141.0,247.13 141.5,246.02 142.0,244.86 142.5,243.67 143.0,242.43 143.5,241.16 144.0,239.85 144.5,238.50 145.0,237.10 145.5,235.68 146.0,234.21 146.5,232.71 147.0,231.17 147.5,229.60 148.0,227.99 148.5,226.36 149.0,224.70 149.5,223.01 150.0,221.30 150.5,219.58 151.0,217.83 151.5,216.08 152.0,214.31 152.5,212.54 153.0,210.78 153.5,209.01 154.0,207.26 154.5,205.53 155.0,203.81 155.5,202.13 156.0,200.47 156.5,198.85 157.0,197.28 157.5,195.76 158.0,194.29 158.5,192.88 159.0,191.54 159.5,190.26 160.0,189.06 160.5,187.94 161.0,186.90 161.5,185.94 162.0,185.08 162.5,184.31 163.0,183.66 163.5,183.13 164.0,182.75 164.5,182.52 165.0,182.47 165.5,182.56 166.0,182.77 166.5,183.07 167.0,183.46 167.5,183.92 168.0,184.44 168.5,185.01 169.0,185.62 169.5,186.28 170.0,186.99 170.5,187.73 171.0,188.52 171.5,189.35 172.0,190.22 172.5,191.14 173.0,192.08 173.5,193.07 174.0,194.09 174.5,195.15 175.0,196.23 175.5,197.35 176.0,198.49 176.5,199.65 177.0,200.84 177.5,202.04 178.0,203.27 178.5,204.51 179.0,205.76 179.5,207.02 180.0,208.28 180.5,209.56 181.0,210.83 181.5,212.11 182.0,213.39 182.5,214.67 183.0,215.94 183.5,217.21 184.0,218.47 184.5,219.72 185.0,220.96 185.5,222.19 186.0,223.41 186.5,224.62 187.0,225.81 187.5,226.99 188.0,228.15 188.5,229.29 189.0,230.42 189.5,231.52 190.0,232.61 190.5,233.68 191.0,234.74 191.5,235.77 192.0,236.78 192.5,237.77 193.0,238.74 193.5,239.70 194.0,240.63 194.5,241.54 195.0,242.43 195.5,243.30 196.0,244.15 196.5,244.98 197.0,245.79 197.5,246.59 198.0,247.36 198.5,248.11 199.0,248.85 199.5,249.56 200.0,250.26 200.5,250.94 201.0,251.60 201.5,252.25 202.0,252.88 202.5,253.49 203.0,254.08 203.5,254.66 204.0,255.22 204.5,255.77 205.0,256.30 205.5,256.82 206.0,257.32 206.5,257.81 207.0,258.29 207.5,258.75 208.0,259.20 208.5,259.64 209.0,260.06 209.5,260.47 210.0,260.87 210.5,261.26 211.0,261.64 211.5,262.01 212.0,262.36 212.5,262.71 213.0,263.05 213.5,263.37 214.0,263.69 214.5,264.00 215.0,264.30 215.5,264.59 216.0,264.87 216.5,265.14 217.0,265.41 217.5,265.67 218.0,265.92 218.5,266.16 219.0,266.40 219.5,266.62 220.0,266.85 220.5,267.06 221.0,267.27 221.5,267.47 222.0,267.67 222.5,267.86 223.0,268.05 223.5,268.23 224.0,268.40 224.5,268.57 225.0,268.74 225.5,268.89 226.0,269.05 226.5,269.20 227.0,269.34 227.5,269.48 228.0,269.62 228.5,269.75 229.0,269.88 229.5,270.01 230.0,270.13 230.5,270.24 231.0,270.35 231.5,270.46 232.0,270.57 232.5,270.67 233.0,270.77 233.5,270.86 234.0,270.96 234.5,271.04 235.0,271.13 235.5,271.21 236.0,271.29 236.5,271.37 237.0,271.44 237.5,271.51 238.0,271.58 238.5,271.65 239.0,271.71 239.5,271.77 240.0,271.83 240.5,271.88 241.0,271.94 241.5,271.99 242.0,272.04 242.5,272.08 243.0,272.12 243.5,272.16 244.0,272.20 244.5,272.24 245.0,272.27 245.5,272.30 246.0,272.33 246.5,272.36 247.0,272.38 247.5,272.40 248.0,272.42 248.5,272.44 249.0,272.46 249.5,272.47 250.0,272.48 250.5,272.49 251.0,272.49 251.5,272.50 252.0,272.50 252.5,272.49 253.0,272.49 253.5,272.48 254.0,272.47 254.5,272.46 255.0,272.45"/>
<polyline clip-path="url(#cP)" fill="none" stroke="rgb(15,82,18)" stroke-width="1.35" stroke-linejoin="round" points="251.2,272.49 251.7,272.50 252.2,272.50 252.7,272.49 253.2,272.49 253.7,272.48 254.2,272.47 254.7,272.46 255.2,272.44 255.7,272.42 256.2,272.40 256.7,272.37 257.2,272.34 257.7,272.31 258.2,272.28 258.7,272.24 259.2,272.19 259.7,272.15 260.2,272.10 260.7,272.04 261.2,271.98 261.7,271.92 262.2,271.85 262.7,271.78 263.2,271.70 263.7,271.62 264.2,271.53 264.7,271.43 265.2,271.33 265.7,271.22 266.2,271.10 266.7,270.98 267.2,270.84 267.7,270.70 268.2,270.55 268.7,270.40 269.2,270.23 269.7,270.05 270.2,269.86 270.7,269.66 271.2,269.45 271.7,269.23 272.2,268.99 272.7,268.74 273.2,268.48 273.7,268.21 274.2,267.92 274.7,267.61 275.2,267.29 275.7,266.96 276.2,266.60 276.7,266.24 277.2,265.85 277.7,265.45 278.2,265.03 278.7,264.60 279.2,264.14 279.7,263.67 280.2,263.17 280.7,262.66 281.2,262.13 281.7,261.58 282.2,261.01 282.7,260.42 283.2,259.80 283.7,259.17 284.2,258.51 284.7,257.83 285.2,257.13 285.7,256.41 286.2,255.65 286.7,254.88 287.2,254.08 287.7,253.25 288.2,252.39 288.7,251.50 289.2,250.58 289.7,249.62 290.2,248.64 290.7,247.61 291.2,246.55 291.7,245.44 292.2,244.30 292.7,243.10 293.2,241.86 293.7,240.57 294.2,239.23 294.7,237.83 295.2,236.37 295.7,234.84 296.2,233.26 296.7,231.60 297.2,229.87 297.7,228.07 298.2,226.19 298.7,224.22 299.2,222.18 299.7,220.04 300.2,217.82 300.7,215.51 301.2,213.10 301.7,210.60 302.2,208.00 302.7,205.31 303.2,202.52 303.7,199.64 304.2,196.66 304.7,193.59 305.2,190.43 305.7,187.18 306.2,183.85 306.7,180.45 307.2,176.98 307.7,173.45 308.2,169.86 308.7,166.23 309.2,162.57 309.7,158.89 310.2,155.19 310.7,151.51 311.2,147.83 311.7,144.20 312.2,140.60 312.7,137.07 313.2,133.62 313.7,130.25 314.2,127.00 314.7,123.87 315.2,120.88 315.7,118.05 316.2,115.42 316.7,113.00 317.2,110.84 317.7,108.98 318.2,107.48 318.7,106.39 319.2,105.77 319.7,105.64 320.2,106.16 320.7,107.39 321.2,109.28 321.7,111.77 322.2,114.78 322.7,118.25 323.2,122.12 323.7,126.32 324.2,130.81 324.7,135.55 325.2,140.47 325.7,145.55 326.2,150.75 326.7,156.02 327.2,161.33 327.7,166.64 328.2,171.93 328.7,177.17 329.2,182.32 329.7,187.38 330.2,192.30 330.7,197.09 331.2,201.72 331.7,206.18 332.2,210.47 332.7,214.57 333.2,218.49 333.7,222.21 334.2,225.75 334.7,229.10 335.2,232.27 335.7,235.25 336.2,238.06 336.7,240.70 337.2,243.18 337.7,245.50 338.2,247.66 338.7,249.69 339.2,251.57 339.7,253.33 340.2,254.97 340.7,256.49 341.2,257.91 341.7,259.22 342.2,260.44 342.7,261.58 343.2,262.63 343.7,263.60 344.2,264.50 344.7,265.34 345.2,266.11 345.7,266.83 346.2,267.49 346.7,268.10 347.2,268.67 347.7,269.20 348.2,269.68 348.7,270.14 349.2,270.55 349.7,270.94 350.2,271.30 350.7,271.63 351.2,271.94 351.7,272.22 352.2,272.49 352.7,272.73 353.2,272.96 353.7,273.17 354.2,273.37 354.7,273.55 355.2,273.72 355.7,273.88 356.2,274.02 356.7,274.16 357.2,274.28 357.7,274.40 358.2,274.51 358.7,274.61 359.2,274.71 359.7,274.80 360.2,274.88 360.7,274.96 361.2,275.03 361.7,275.10 362.2,275.16 362.7,275.22 363.2,275.27 363.7,275.32 364.2,275.37 364.7,275.42 365.2,275.46 365.7,275.50 366.2,275.54 366.7,275.57 367.2,275.61 367.7,275.64 368.2,275.67 368.7,275.69 369.2,275.72 369.7,275.74 370.2,275.77 370.7,275.79 371.2,275.81 371.7,275.83 372.2,275.85 372.7,275.86 373.2,275.88 373.7,275.89 374.2,275.91 374.7,275.92 375.2,275.94 375.7,275.95 376.2,275.96 376.7,275.97 377.2,275.98 377.7,275.99 378.2,276.00 378.7,276.01 379.2,276.02 379.7,276.03 380.2,276.04 380.7,276.04 381.2,276.05 381.7,276.06 382.2,276.06 382.7,276.07 383.2,276.08 383.7,276.08 384.2,276.09 384.7,276.09 385.2,276.10 385.7,276.10 386.2,276.11 386.7,276.11 387.2,276.12 387.7,276.12 388.2,276.12 388.7,276.13 389.2,276.13 389.7,276.13 390.2,276.14 390.7,276.14 391.2,276.14 391.7,276.15 392.2,276.15 392.7,276.15 393.2,276.16 393.7,276.16 394.2,276.16 394.7,276.16 395.2,276.16 395.7,276.17 396.2,276.17 396.7,276.17 397.2,276.17 397.7,276.18 398.2,276.18 398.7,276.18 399.2,276.18"/>
<rect x="63.5" y="19" width="72" height="55.2" fill="none" stroke="#555" stroke-width="1"/>
<line x1="69.4" y1="28.5" x2="94.3" y2="28.5" stroke="rgb(223,219,228)" stroke-width="1.1"/>
<text x="97" y="32.1" font-size="10.9">RB</text>
<line x1="69.4" y1="41.5" x2="94.3" y2="41.5" stroke="rgb(179,172,202)" stroke-width="1.1"/>
<text x="97" y="45.3" font-size="10.9">RBG25</text>
<line x1="69.4" y1="55.4" x2="94.3" y2="55.4" stroke="rgb(159,155,180)" stroke-width="1.1"/>
<text x="97" y="58.6" font-size="10.9">RBG50</text>
<line x1="69.4" y1="68.5" x2="94.3" y2="68.5" stroke="rgb(99,108,111)" stroke-width="1.1"/>
<text x="97" y="71.8" font-size="10.9">RBG75</text>
<rect x="29.3" y="1" width="85.40" height="276.5" fill="rgb(83,75,187)" fill-opacity="0.25"/>
<rect x="113.7" y="1" width="139.00" height="276.5" fill="rgb(75,179,79)" fill-opacity="0.25"/>
<rect x="253.3" y="1" width="146.70" height="276.5" fill="rgb(235,75,107)" fill-opacity="0.25"/>
<path d="M29.3,1.4 H399.2 V276.8 H29.3 Z" fill="none" stroke="#111" stroke-width="1.4"/>
<line x1="29.30" y1="277.5" x2="29.30" y2="282.5" stroke="#111" stroke-width="1.2"/>
<line x1="85.30" y1="277.5" x2="85.30" y2="280.0" stroke="#111" stroke-width="1.2"/>
<line x1="141.30" y1="277.5" x2="141.30" y2="282.5" stroke="#111" stroke-width="1.2"/>
<line x1="197.30" y1="277.5" x2="197.30" y2="280.0" stroke="#111" stroke-width="1.2"/>
<line x1="253.30" y1="277.5" x2="253.30" y2="282.5" stroke="#111" stroke-width="1.2"/>
<line x1="309.30" y1="277.5" x2="309.30" y2="280.0" stroke="#111" stroke-width="1.2"/>
<line x1="365.30" y1="277.5" x2="365.30" y2="282.5" stroke="#111" stroke-width="1.2"/>
<line x1="28.6" y1="276.80" x2="23.6" y2="276.80" stroke="#111" stroke-width="1.2"/>
<line x1="28.6" y1="246.23" x2="25.8" y2="246.23" stroke="#111" stroke-width="1.2"/>
<line x1="28.6" y1="215.65" x2="23.6" y2="215.65" stroke="#111" stroke-width="1.2"/>
<line x1="28.6" y1="185.08" x2="25.8" y2="185.08" stroke="#111" stroke-width="1.2"/>
<line x1="28.6" y1="154.50" x2="23.6" y2="154.50" stroke="#111" stroke-width="1.2"/>
<line x1="28.6" y1="123.93" x2="25.8" y2="123.93" stroke="#111" stroke-width="1.2"/>
<line x1="28.6" y1="93.35" x2="23.6" y2="93.35" stroke="#111" stroke-width="1.2"/>
<line x1="28.6" y1="62.78" x2="25.8" y2="62.78" stroke="#111" stroke-width="1.2"/>
<line x1="28.6" y1="32.20" x2="23.6" y2="32.20" stroke="#111" stroke-width="1.2"/>
<text x="29.30" y="294.6" font-size="11.2" text-anchor="middle">400</text>
<text x="141.30" y="294.6" font-size="11.2" text-anchor="middle">500</text>
<text x="253.30" y="294.6" font-size="11.2" text-anchor="middle">600</text>
<text x="365.30" y="294.6" font-size="11.2" text-anchor="middle">700</text>
<text x="213.8" y="317.3" font-size="14.3" text-anchor="middle">Wave length(nm)</text>
<text transform="translate(12.3,148.4) rotate(-90)" font-size="14.3" text-anchor="middle">Relative intensity</text>
</svg>
</body></html>
